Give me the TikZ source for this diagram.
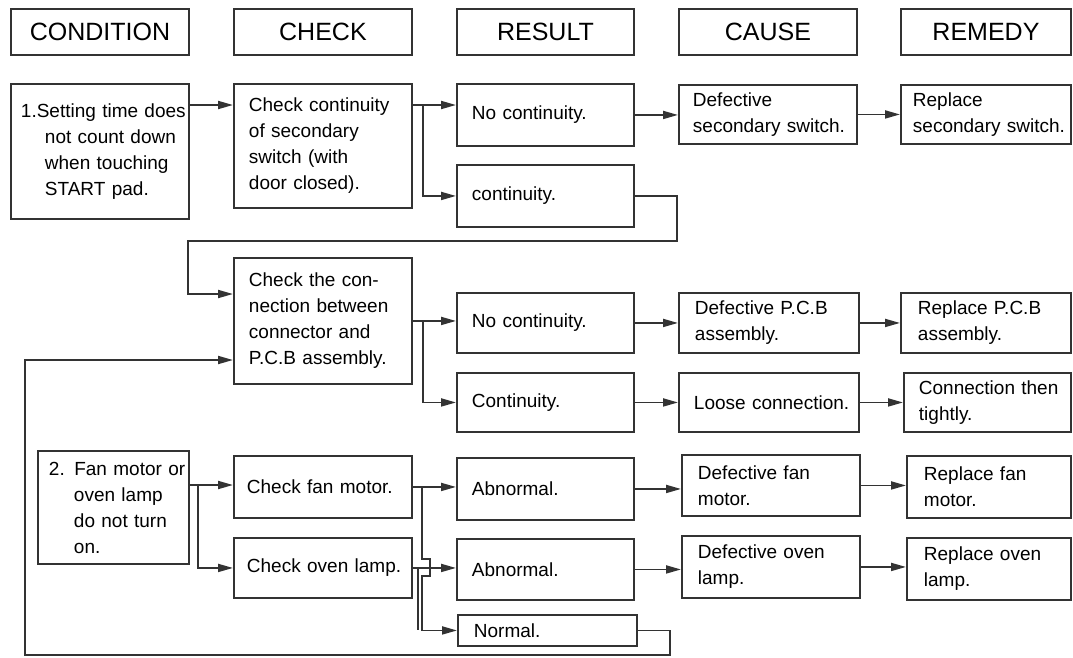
\documentclass[tikz,border=0pt]{standalone}
\usepackage{fontspec}
\setmainfont{Liberation Sans}
\usetikzlibrary{arrows.meta}
\newcommand\bodyfont{\fontsize{19}{26}\selectfont}
\newcommand\headfont{\fontsize{25}{30}\selectfont}
\newcommand\lne[1]{\mbox{#1}}
\begin{document}
\begin{tikzpicture}[x=1pt,y=-1pt,
  bx/.style={draw=black!80, line width=1.9pt, anchor=north west, align=left,
    inner xsep=0pt, inner ysep=0pt, font=\bodyfont, text=black},
  hd/.style={bx, align=center, font=\headfont, minimum height=46pt},
  ln/.style={draw=black!80, line width=1.9pt},
  ar/.style={ln, -{Triangle[length=15pt,width=8pt]}},
]
\useasboundingbox (0,0) rectangle (1073,657);

% headers
\node[hd, minimum width=178pt, text width=178pt] (hC)  at (10,8)  {CONDITION};
\node[hd, minimum width=178pt, text width=178pt] (hK)  at (233,8) {CHECK};
\node[hd, minimum width=177pt, text width=177pt] (hR)  at (456,8) {RESULT};
\node[hd, minimum width=178pt, text width=178pt] (hCa) at (678,8) {CAUSE};
\node[hd, minimum width=170pt, text width=170pt] (hRe) at (900,8) {REMEDY};

% row 1
\node[bx, minimum width=178pt, minimum height=135pt, text width=158pt] (c1) at (10,83)
  {\lne{1.Setting time does}\\\lne{\hspace*{24pt}not count down}\\\lne{\hspace*{24pt}when touching}\\\lne{\hspace*{24pt}START pad.}};
\node[bx, minimum width=178pt, minimum height=124pt, text width=148pt] (k1) at (233,83)
  {\lne{Check continuity}\\\lne{of secondary}\\\lne{switch (with}\\\lne{door closed).}};
\node[bx, minimum width=177pt, minimum height=62pt, text width=147pt] (r1a) at (456,83) {\lne{No continuity.}};
\node[bx, minimum width=177pt, minimum height=62pt, text width=147pt] (r1b) at (456,164) {\lne{continuity.}};
\node[bx, minimum width=178pt, minimum height=59pt, text width=150pt] (ca1) at (678,84) {\lne{Defective}\\\lne{secondary switch.}};
\node[bx, minimum width=170pt, minimum height=59pt, text width=146pt] (re1) at (900,84) {\lne{Replace}\\\lne{secondary switch.}};

% row 2
\node[bx, minimum width=178pt, minimum height=126pt, text width=148pt] (k2) at (233,257)
  {\lne{Check the con-}\\\lne{nection between}\\\lne{connector and}\\\lne{P.C.B assembly.}};
\node[bx, minimum width=177pt, minimum height=60pt, text width=147pt] (r2a) at (456,292) {\lne{No continuity.}};
\node[bx, minimum width=177pt, minimum height=59pt, text width=147pt] (r2b) at (456,372) {\lne{Continuity.}};
\node[bx, minimum width=180pt, minimum height=60pt, text width=148pt] (ca2a) at (678,292) {\lne{Defective P.C.B}\\\lne{assembly.}};
\node[bx, minimum width=180pt, minimum height=59pt, text width=150pt] (ca2b) at (678,372) {\lne{Loose connection.}};
\node[bx, minimum width=170pt, minimum height=60pt, text width=136pt] (re2a) at (900,292) {\lne{Replace P.C.B}\\\lne{assembly.}};
\node[bx, minimum width=167pt, minimum height=59pt, text width=137pt] (re2b) at (903,372) {\lne{Connection then}\\\lne{tightly.}};

% row 3
\node[bx, minimum width=151pt, minimum height=113pt, text width=129pt] (c2) at (37,450)
  {\lne{2. Fan motor or}\\\lne{\hspace*{25pt}oven lamp}\\\lne{\hspace*{25pt}do not turn}\\\lne{\hspace*{25pt}on.}};
\node[bx, minimum width=178pt, minimum height=62pt, text width=152pt] (k3a) at (233,455) {\lne{Check fan motor.}};
\node[bx, minimum width=178pt, minimum height=60pt, text width=152pt] (k3b) at (233,537) {\lne{Check oven lamp.}};
\node[bx, minimum width=177pt, minimum height=62pt, text width=147pt] (r3a) at (456,457) {\lne{Abnormal.}};
\node[bx, minimum width=177pt, minimum height=61pt, text width=147pt] (r3b) at (456,538) {\lne{Abnormal.}};
\node[bx, minimum width=179pt, minimum height=31pt, text width=147pt] (r3c) at (457,614) {\lne{Normal.}};
\node[bx, minimum width=178pt, minimum height=61pt, text width=146pt] (ca3a) at (681,454) {\lne{Defective fan}\\\lne{motor.}};
\node[bx, minimum width=178pt, minimum height=62pt, text width=146pt] (ca3b) at (681,535) {\lne{Defective oven}\\\lne{lamp.}};
\node[bx, minimum width=164pt, minimum height=62pt, text width=130pt] (re3a) at (906,455) {\lne{Replace fan}\\\lne{motor.}};
\node[bx, minimum width=164pt, minimum height=62pt, text width=130pt] (re3b) at (906,537) {\lne{Replace oven}\\\lne{lamp.}};

% row 1 connectors
\draw[ar] ([yshift=-22pt]c1.north east) -- ([yshift=-22pt]k1.north west);
\coordinate (b1) at ([xshift=10pt,yshift=-22pt]k1.north east);
\draw[ar] ([yshift=-22pt]k1.north east) -- (b1) -- (b1 -| r1a.west);
\draw[ar] (b1) |- (r1b.west);
\draw[ar] (r1a.east) -- (r1a.east -| ca1.west);
\draw[ar] (ca1.east) -- (ca1.east -| re1.west);
\coordinate (l1a) at (677,241);
\coordinate (l1b) at (188,241);
\draw[ar] (r1b.east) -| (l1a) -- (l1b) |- ([yshift=-37pt]k2.north west);

% row 2 connectors
\coordinate (b2) at ([xshift=10pt]k2.east);
\draw[ar] (k2.east) -- (b2) -- (b2 -| r2a.west);
\draw[ar] (b2) |- (r2b.west);
\draw[ar] (r2a.east) -- (r2a.east -| ca2a.west);
\draw[ar] (r2b.east) -- (r2b.east -| ca2b.west);
\draw[ar] (ca2a.east) -- (ca2a.east -| re2a.west);
\draw[ar] (ca2b.east) -- (ca2b.east -| re2b.west);

% row 3 connectors
\coordinate (b3) at ([xshift=8pt,yshift=-35pt]c2.north east);
\draw[ar] ([yshift=-35pt]c2.north east) -- (b3 -| k3a.west);
\draw[ar] (b3) |- (k3b.west);
\draw[ar] (k3a.east) -- (k3a.east -| r3a.west);
\coordinate (v1) at ([xshift=9pt]k3a.east);
\draw[ar] (v1) -- ([xshift=9pt,yshift=9pt]k3b.east) -- ++(8,0) -- ++(0,17) -- ++(-8,0)
  -- (v1 |- r3c.west) -- (r3c.west);
\draw[ar] (k3b.east) -- (k3b.east -| r3b.west);
\draw[ln] ([xshift=5pt]k3b.east) -- ([xshift=5pt]k3b.east |- r3c.west);
\draw[ar] (r3a.east) -- (r3a.east -| ca3a.west);
\draw[ar] (r3b.east) -- (r3b.east -| ca3b.west);
\draw[ar] (ca3a.east) -- (ca3a.east -| re3a.west);
\draw[ar] (ca3b.east) -- (ca3b.east -| re3b.west);
\coordinate (l2a) at (670,655);
\coordinate (l2b) at (25,655);
\draw[ar] (r3c.east) -| (l2a) -- (l2b) |- ([yshift=-103pt]k2.north west);
\end{tikzpicture}
\end{document}
